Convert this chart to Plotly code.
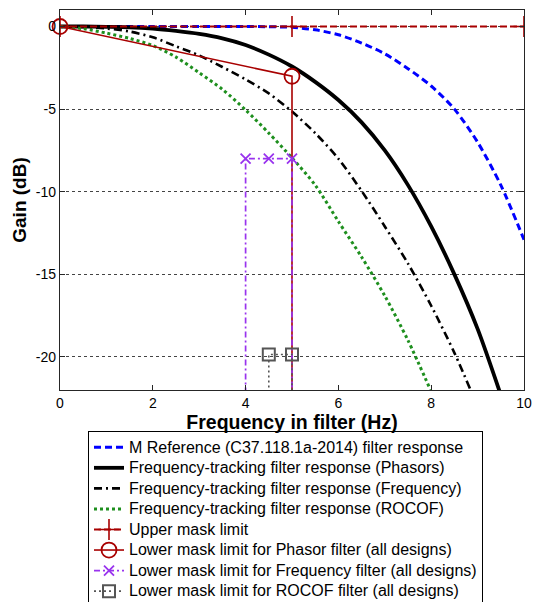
import plotly.graph_objects as go

# ---- data ----
freq_ref = [0, 1, 2, 3, 4, 4.5, 5, 5.5, 6, 6.5, 7, 7.5, 8, 8.5, 9, 9.5, 10]
gain_ref = [0, 0, 0, 0, 0, -0.01, -0.05, -0.2, -0.5, -1.0, -1.65, -2.55, -3.6, -5.0, -7.0, -9.6, -12.9]

freq_ph = [0, 0.5, 1, 1.5, 2, 2.5, 3, 3.5, 4, 4.5, 5, 5.5, 6, 6.5, 7, 7.5, 8, 8.5, 9, 9.5]
gain_ph = [0, 0, -0.02, -0.05, -0.13, -0.27, -0.45, -0.72, -1.12, -1.7, -2.42, -3.35, -4.45, -5.8, -7.5, -9.6, -12.1, -15.0, -18.3, -22.3]

freq_fr = [0, 0.5, 1, 1.5, 2, 2.5, 3, 3.5, 4, 4.5, 5, 5.5, 6, 6.5, 7, 7.5, 8, 8.5, 9]
gain_fr = [0, -0.03, -0.12, -0.3, -0.65, -1.2, -1.75, -2.45, -3.2, -4.05, -5.15, -6.45, -8.0, -9.95, -12.1, -14.35, -16.9, -19.75, -23.0]

freq_ro = [0, 0.5, 1, 1.5, 2, 2.5, 3, 3.5, 4, 4.5, 5, 5.5, 6, 6.5, 7, 7.5, 8]
gain_ro = [0, -0.13, -0.4, -0.72, -1.15, -1.85, -2.8, -3.8, -5.05, -6.45, -7.95, -9.6, -11.8, -13.95, -16.3, -19.0, -22.1]

upper_freq = [0, 5, 10]
upper_gain = [0, 0, 0]

phasor_mask_freq = [0, 5, 5]
phasor_mask_gain = [0, -3.01, -40]

freq_mask_freq = [4, 4, 4.5, 5, 5]
freq_mask_gain = [-40, -8, -8, -8, -40]

rocof_mask_freq = [4.5, 4.5, 5, 5]
rocof_mask_gain = [-40, -19.85, -19.85, -40]

names = [
    "M Reference (C37.118.1a-2014) filter response",
    "Frequency-tracking filter response (Phasors)",
    "Frequency-tracking filter response (Frequency)",
    "Frequency-tracking filter response (ROCOF)",
    "Upper mask limit",
    "Lower mask limit for Phasor filter (all designs)",
    "Lower mask limit for Frequency filter (all designs)",
    "Lower mask limit for ROCOF filter (all designs)",
]

x_ticks = [0, 2, 4, 6, 8, 10]
y_ticks = [-20, -15, -10, -5, 0]

DARKRED = "#a80000"
PURPLE = "#9933ee"
GREEN = "#1e8f1e"
GRAY = "#555555"


def lbl(s):
    return '<span style="font-size:16px">' + s + "</span>"


fig = go.Figure()
fig.add_trace(go.Scatter(x=freq_ref, y=gain_ref, mode="lines", name=lbl(names[0]),
                         line=dict(color="#0000ff", width=3, dash="7px,4px", shape="spline", smoothing=0.8)))
fig.add_trace(go.Scatter(x=freq_ph, y=gain_ph, mode="lines", name=lbl(names[1]),
                         line=dict(color="black", width=3.8, shape="spline", smoothing=0.8)))
fig.add_trace(go.Scatter(x=freq_fr, y=gain_fr, mode="lines", name=lbl(names[2]),
                         line=dict(color="black", width=2.6, dash="8px,4px,2px,4px", shape="spline", smoothing=0.8)))
fig.add_trace(go.Scatter(x=freq_ro, y=gain_ro, mode="lines", name=lbl(names[3]),
                         line=dict(color=GREEN, width=3, dash="3px,3px", shape="spline", smoothing=0.8)))
fig.add_trace(go.Scatter(x=upper_freq, y=upper_gain, mode="lines+markers", name=lbl(names[4]),
                         line=dict(color=DARKRED, width=2, dash="7px,3px"),
                         marker=dict(symbol="cross-thin-open", size=15, color=DARKRED,
                                     line=dict(color=DARKRED, width=1.6))))
fig.add_trace(go.Scatter(x=phasor_mask_freq, y=phasor_mask_gain, mode="lines+markers", name=lbl(names[5]),
                         cliponaxis=False,
                         line=dict(color=DARKRED, width=1.6),
                         marker=dict(symbol="circle-open", size=15, color=DARKRED,
                                     line=dict(color=DARKRED, width=1.8))))
fig.add_trace(go.Scatter(x=freq_mask_freq, y=freq_mask_gain, mode="lines+markers", name=lbl(names[6]),
                         line=dict(color=PURPLE, width=1.7, dash="6px,3px,2px,3px"),
                         marker=dict(symbol="x-thin-open", size=10, color=PURPLE,
                                     line=dict(color=PURPLE, width=1.8))))
fig.add_trace(go.Scatter(x=rocof_mask_freq, y=rocof_mask_gain, mode="lines+markers", name=lbl(names[7]),
                         line=dict(color=GRAY, width=1.6, dash="2px,3px"),
                         marker=dict(symbol="square-open", size=12, color=GRAY,
                                     line=dict(color=GRAY, width=2))))

FONT = "Liberation Sans, Arial, sans-serif"
fig.update_layout(
    width=533, height=602,
    margin=dict(l=60, r=9, t=10, b=212, autoexpand=False),
    paper_bgcolor="white", plot_bgcolor="white",
    font=dict(family=FONT, size=14, color="black"),
    showlegend=True,
    legend=dict(x=(88 - 60) / 464, y=-(431 - 390) / 380, xanchor="left", yanchor="top",
                bordercolor="black", borderwidth=1, bgcolor="white",
                font=dict(family=FONT, size=13.5, color="black"),
                tracegroupgap=0, itemwidth=30),
)
fig.update_xaxes(range=[0, 10], tickvals=x_ticks, ticktext=[str(v) for v in x_ticks],
                 showgrid=False, zeroline=False, showline=True, linecolor="#262626", linewidth=1.3,
                 mirror="ticks", ticks="inside", ticklen=5, tickwidth=1, tickcolor="#262626",
                 tickfont=dict(size=14, family=FONT, color="black"),
                 title=dict(text="<b>Frequency in filter (Hz)</b>", font=dict(size=19.5, family=FONT), standoff=2))
fig.update_yaxes(range=[-22, 1], tickvals=y_ticks, ticktext=[str(v) for v in y_ticks],
                 showgrid=True, gridcolor="#444444", griddash="dot", gridwidth=1,
                 zeroline=False, showline=True, linecolor="#262626", linewidth=1.3,
                 mirror="ticks", ticks="inside", ticklen=5, tickwidth=1, tickcolor="#262626",
                 tickfont=dict(size=14, family=FONT, color="black"),
                 title=dict(text="<b>Gain (dB)</b>", font=dict(size=19, family=FONT), standoff=4))

fig.write_html("out.html")
